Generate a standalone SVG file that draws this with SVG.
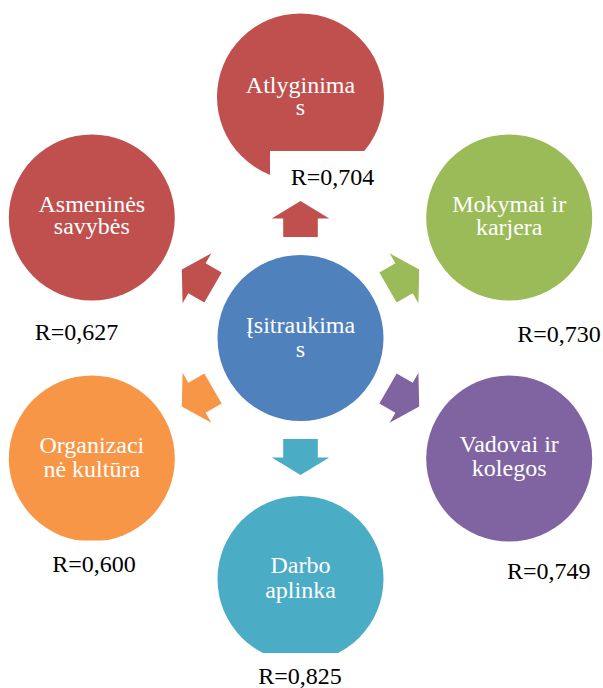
<svg xmlns="http://www.w3.org/2000/svg" width="603" height="688" viewBox="0 0 603 688">
<defs>
<style>
.t{font-family:"Liberation Serif","Times New Roman",serif;font-size:24px;fill:#ffffff;text-anchor:middle}
.r{font-family:"Liberation Serif","Times New Roman",serif;font-size:24px;fill:#000000;text-anchor:middle}
.mask{fill:#ffffff}
</style>
<path id="arr" d="M0,-18 L28.8,-0.5 L17.3,-0.5 L17.3,18 L-17.3,18 L-17.3,-0.5 L-28.8,-0.5 Z"/>
</defs>
<rect width="603" height="688" fill="#ffffff"/>
<g id="connectors">
<use href="#arr" fill="#C0504D" transform="translate(300.5,219) rotate(0)"/>
<use href="#arr" fill="#9BBB59" transform="translate(403.6,278.5) rotate(60)"/>
<use href="#arr" fill="#8064A2" transform="translate(403.6,397.5) rotate(120)"/>
<use href="#arr" fill="#4BACC6" transform="translate(300.5,457) rotate(180)"/>
<use href="#arr" fill="#F79646" transform="translate(197.4,397.5) rotate(240)"/>
<use href="#arr" fill="#C0504D" transform="translate(197.4,278.5) rotate(300)"/>
</g>
<g id="center">
<circle cx="300.5" cy="338" r="83" fill="#4F81BD"/>
<text class="t" x="300.5" y="333.3">Įsitraukima</text>
<text class="t" x="300.5" y="356.7">s</text>
</g>
<g id="atlyginimas">
<circle cx="300.5" cy="97" r="83.5" fill="#C0504D"/>
<rect class="mask" x="270" y="151" width="130" height="42"/>
<text class="t" x="300.5" y="93">Atlyginima</text>
<text class="t" x="300.5" y="115">s</text>
<text class="r" x="332.5" y="185">R=0,704</text>
</g>
<g id="mokymai">
<circle cx="509.2" cy="217.5" r="83" fill="#9BBB59"/>
<text class="t" x="509.2" y="211.7">Mokymai ir</text>
<text class="t" x="509.2" y="234.5">karjera</text>
<text class="r" x="559" y="341.7">R=0,730</text>
</g>
<g id="vadovai">
<circle cx="509.2" cy="458.5" r="83" fill="#8064A2"/>
<text class="t" x="509.2" y="452">Vadovai ir</text>
<text class="t" x="509.2" y="476">kolegos</text>
<text class="r" x="548.7" y="579.3">R=0,749</text>
</g>
<g id="darbo">
<circle cx="300.5" cy="579" r="83" fill="#4BACC6"/>
<rect class="mask" x="200" y="653" width="200" height="35"/>
<text class="t" x="300.5" y="573">Darbo</text>
<text class="t" x="300.5" y="598">aplinka</text>
<text class="r" x="300" y="684">R=0,825</text>
</g>
<g id="organizacine">
<circle cx="91.8" cy="458.5" r="83" fill="#F79646"/>
<rect class="mask" x="0" y="540.5" width="200" height="10"/>
<text class="t" x="91.8" y="453">Organizaci</text>
<text class="t" x="91.8" y="477">nė kultūra</text>
<text class="r" x="94" y="571.7">R=0,600</text>
</g>
<g id="asmenines">
<circle cx="91.8" cy="217.5" r="83" fill="#C0504D"/>
<text class="t" x="91.8" y="211.7">Asmeninės</text>
<text class="t" x="91.8" y="234">savybės</text>
<text class="r" x="76.5" y="340">R=0,627</text>
</g>
</svg>
